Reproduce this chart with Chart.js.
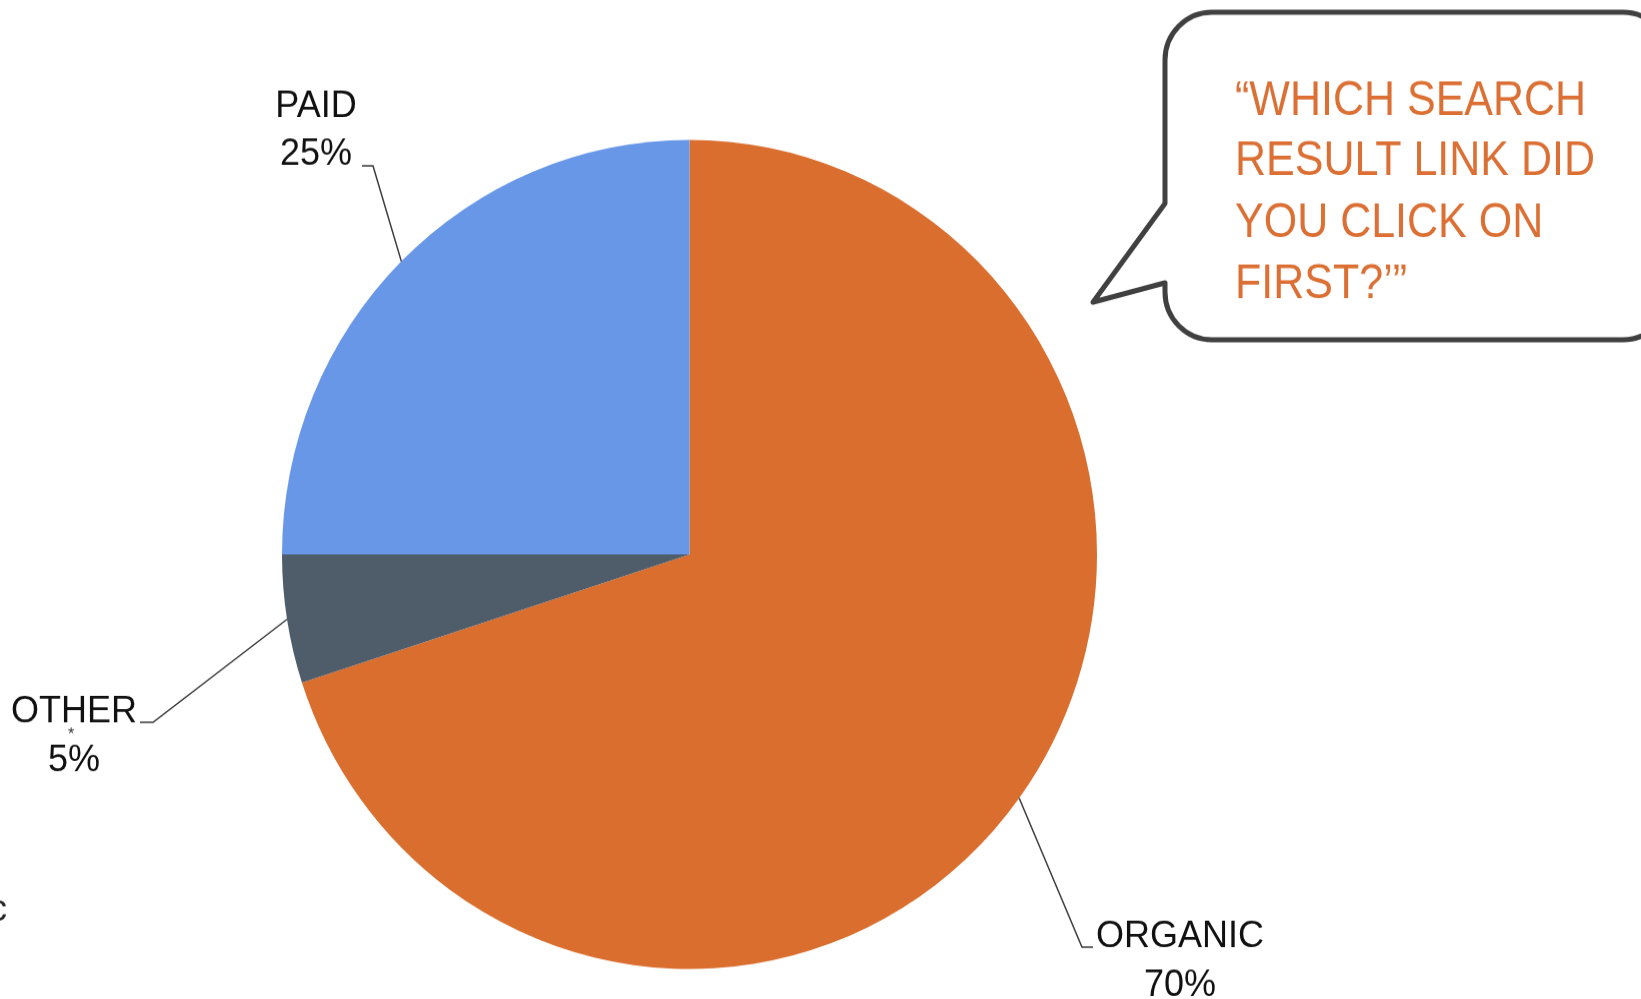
<!DOCTYPE html>
<html>
<head>
<meta charset="utf-8">
<script src="https://cdn.jsdelivr.net/npm/chart.js@4"></script>
<style>
  html, body { margin: 0; padding: 0; background: #fff; overflow: hidden; }
  #wrap { width: 1641px; height: 999px; position: relative; }
  #pie { display: block; }
</style>
</head>
<body>
<!-- the source pie is slightly taller than wide, so the canvas is stretched a bit -->
<div id="wrap"><canvas id="pie" width="1641" height="982" style="width:1641px;height:999px"></canvas></div>
<script>
// data
const categories = ['ORGANIC', 'OTHER', 'PAID'];
const shares = [70, 5, 25];
const sliceColors = ['#D96E2E', '#4F5D6B', '#6897E8'];
const bubbleLines = ['\u201CWHICH SEARCH', 'RESULT LINK DID', 'YOU CLICK ON', 'FIRST?\u2019\u201D'];

// label placement relative to pie center (canvas px): leader elbow, leader end, text anchor
const labelLayout = [
  { elbow: [392.5, 386], end: [403.5, 386], text: [490.5, 386], firstLineOnElbow: true },
  { elbow: [-536.5, 165], end: [-549.5, 165], text: [-615.5, 165], firstLineOnElbow: true },
  { elbow: [-316.5, -382], end: [-327.5, -382], text: [-373.5, -383], firstLineOnElbow: false }
];

const LABEL_FONT = '36px "Liberation Sans", Arial, sans-serif';
const LINE_GAP = 48;

const labelPlugin = {
  id: 'leaderLabels',
  afterDatasetsDraw(chart) {
    const ctx = chart.ctx;
    const meta = chart.getDatasetMeta(0);
    ctx.save();
    meta.data.forEach((arc, i) => {
      const cx = arc.x, cy = arc.y, r = arc.outerRadius;
      const mid = (arc.startAngle + arc.endAngle) / 2;
      const sx = cx + Math.cos(mid) * r;
      const sy = cy + Math.sin(mid) * r;
      const lay = labelLayout[i];
      ctx.strokeStyle = '#3a3a3a';
      ctx.lineWidth = 1.5;
      ctx.beginPath();
      ctx.moveTo(sx, sy);
      ctx.lineTo(cx + lay.elbow[0], cy + lay.elbow[1]);
      ctx.lineTo(cx + lay.end[0], cy + lay.end[1]);
      ctx.stroke();

      ctx.fillStyle = '#111';
      ctx.font = LABEL_FONT;
      ctx.textAlign = 'center';
      ctx.textBaseline = 'alphabetic';
      const tx = cx + lay.text[0];
      const ty = cy + lay.text[1];
      const pct = shares[i] + '%';
      if (lay.firstLineOnElbow) {
        ctx.fillText(categories[i], tx, ty);
        ctx.fillText(pct, tx, ty + LINE_GAP);
      } else {
        ctx.fillText(categories[i], tx, ty - LINE_GAP + 1);
        ctx.fillText(pct, tx, ty);
      }
    });
    // stray marks from the source slide
    ctx.font = '16px "Liberation Sans", Arial, sans-serif';
    ctx.fillStyle = '#333';
    ctx.fillText('*', 71, 727);
    ctx.font = LABEL_FONT;
    ctx.fillStyle = '#222';
    ctx.textAlign = 'left';
    ctx.fillText('c', -11, 905);
    ctx.restore();
  }
};

const bubblePlugin = {
  id: 'speechBubble',
  afterDraw(chart) {
    const ctx = chart.ctx;
    const L = 1165, T = 12, R = 1670, B = 334, rad = 47;
    ctx.save();
    ctx.beginPath();
    ctx.moveTo(L + rad, T);
    ctx.lineTo(R - rad, T);
    ctx.arcTo(R, T, R, T + rad, rad);
    ctx.lineTo(R, B - rad);
    ctx.arcTo(R, B, R - rad, B, rad);
    ctx.lineTo(L + rad, B);
    ctx.arcTo(L, B, L, B - rad, rad);
    ctx.lineTo(L, 278);
    ctx.lineTo(1093, 297);
    ctx.lineTo(L, 200);
    ctx.lineTo(L, T + rad);
    ctx.arcTo(L, T, L + rad, T, rad);
    ctx.closePath();
    ctx.fillStyle = '#fff';
    ctx.fill();
    ctx.strokeStyle = '#404040';
    ctx.lineWidth = 5;
    ctx.lineJoin = 'round';
    ctx.stroke();

    ctx.fillStyle = '#DC7034';
    ctx.font = '43px "Liberation Sans", Arial, sans-serif';
    ctx.textAlign = 'left';
    ctx.textBaseline = 'alphabetic';
    const baselines = [113, 172, 233, 293];
    bubbleLines.forEach((line, i) => {
      ctx.save();
      ctx.translate(1235, baselines[i]);
      ctx.scale(1, 1.12);
      ctx.fillText(line, 0, 0);
      ctx.restore();
    });
    ctx.restore();
  }
};

new Chart(document.getElementById('pie'), {
  type: 'pie',
  data: {
    labels: categories,
    datasets: [{
      data: shares,
      backgroundColor: sliceColors,
      borderWidth: 0
    }]
  },
  options: {
    responsive: false,
    animation: false,
    layout: { padding: { left: 282, right: 544, top: 137.5, bottom: 29.5 } },
    plugins: {
      legend: { display: false },
      tooltip: { enabled: false }
    }
  },
  plugins: [labelPlugin, bubblePlugin]
});
</script>
</body>
</html>
